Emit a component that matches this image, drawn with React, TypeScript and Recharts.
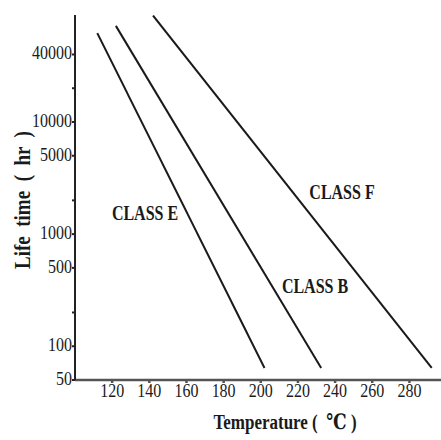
import { LineChart, Line, XAxis, YAxis } from 'recharts'

const xTicks = [120, 140, 160, 180, 200, 220, 240, 260, 280]
const yTicks = [50, 100, 200, 500, 1000, 2000, 5000, 10000, 20000, 40000]
const yTickLabels = ['50', '100', '', '500', '1000', '', '5000', '10000', '', '40000']

const classETemp = [112, 202]
const classELife = [62000, 64]
const classBTemp = [122, 232.5]
const classBLife = [72000, 64]
const classFTemp = [142, 292]
const classFLife = [89000, 64]

const toPoints = (temps: number[], lives: number[]) =>
  temps.map((t, i) => ({ temp: t, life: lives[i] }))

const classE = toPoints(classETemp, classELife)
const classB = toPoints(classBTemp, classBLife)
const classF = toPoints(classFTemp, classFLife)

const font = '"Liberation Serif", "DejaVu Serif", serif'
const ink = '#1a1a1a'

function Note({ x, y, children, rotate, size = 16 }: { x: number; y: number; children: string; rotate?: boolean; size?: number }) {
  return (
    <div
      style={{
        position: 'absolute',
        left: x,
        top: y,
        transform: `translate(-50%, -50%) ${rotate ? 'rotate(-90deg)' : ''} scaleY(1.25)`,
        fontFamily: font,
        fontWeight: 'bold',
        fontSize: size,
        color: ink,
        whiteSpace: 'pre',
        lineHeight: 1,
      }}
    >
      {children}
    </div>
  )
}

// tall, narrow tick text like the scanned original
function XTick(props: any) {
  const { x, y, payload } = props
  return (
    <text x={x} y={y + 12} textAnchor="middle" fontFamily={font} fontSize={16} fill={ink}
      transform={`translate(0 ${-(y + 12) * 0.2}) scale(1 1.2)`}>
      {payload.value}
    </text>
  )
}

function YTick(props: any) {
  const { x, y, payload } = props
  const label = yTickLabels[yTicks.indexOf(payload.value)] ?? ''
  return (
    <text x={x} y={y + 5} textAnchor="end" fontFamily={font} fontSize={16} fill={ink}
      transform={`translate(0 ${-(y + 5) * 0.2}) scale(1 1.2)`}>
      {label}
    </text>
  )
}

export default function App() {
  return (
    <div style={{ position: 'absolute', left: 0, top: 0, width: 441, height: 440, background: '#fff' }}>
      <LineChart width={441} height={440} margin={{ top: 15, right: 0, left: 0, bottom: 0 }}>
        <XAxis
          type="number"
          dataKey="temp"
          domain={[100, 297]}
          ticks={xTicks}
          allowDataOverflow
          height={60}
          tick={<XTick />}
          tickSize={3}
          stroke="#555"
          strokeWidth={2.5}
        />
        <YAxis
          type="number"
          scale="log"
          dataKey="life"
          domain={[50, 90000]}
          ticks={yTicks}
          allowDataOverflow
          width={75}
          tick={<YTick />}
          tickSize={3}
          tickMargin={0}
          stroke="#222"
          strokeWidth={2}
        />
        <Line data={classE} dataKey="life" stroke={ink} strokeWidth={2} dot={false} isAnimationActive={false} />
        <Line data={classB} dataKey="life" stroke={ink} strokeWidth={2} dot={false} isAnimationActive={false} />
        <Line data={classF} dataKey="life" stroke={ink} strokeWidth={2} dot={false} isAnimationActive={false} />
      </LineChart>
      <Note x={145} y={214}>CLASS E</Note>
      <Note x={315} y={287}>CLASS B</Note>
      <Note x={342} y={193}>CLASS F</Note>
      <Note x={285} y={422} size={17}>Temperature (  ℃ )</Note>
      <Note x={22} y={200} rotate size={19}>Life  time  (  hr  )</Note>
    </div>
  )
}
